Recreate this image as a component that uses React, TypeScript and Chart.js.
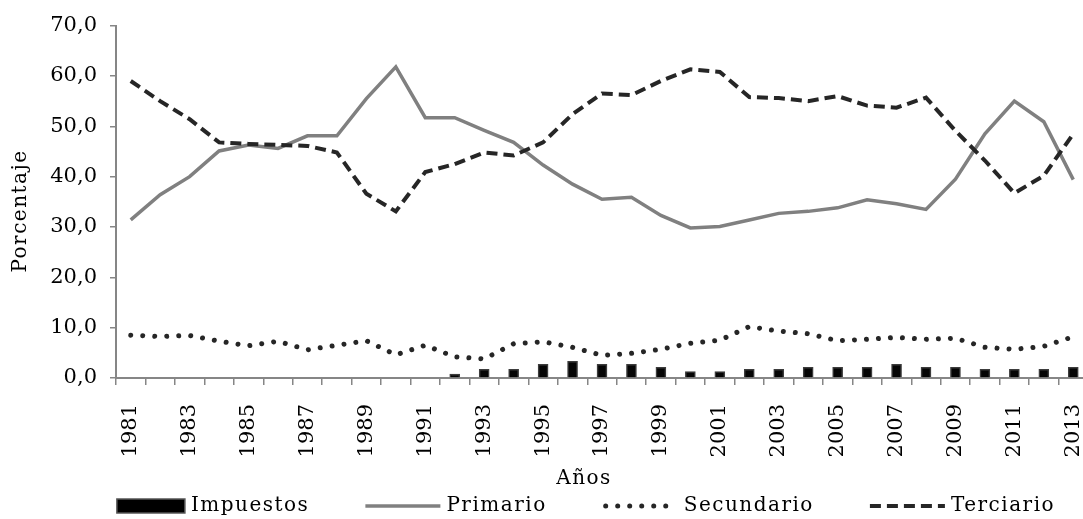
import React, { useEffect, useRef } from 'react';
import { Chart, registerables } from 'chart.js';

Chart.register(...registerables);

const years: string[] = [
  '1981', '1982', '1983', '1984', '1985', '1986', '1987', '1988', '1989', '1990',
  '1991', '1992', '1993', '1994', '1995', '1996', '1997', '1998', '1999', '2000',
  '2001', '2002', '2003', '2004', '2005', '2006', '2007', '2008', '2009', '2010',
  '2011', '2012', '2013',
];

const impuestos: (number | null)[] = [
  null, null, null, null, null, null, null, null, null, null,
  null, 0.8, 1.7, 1.7, 2.7, 3.3, 2.7, 2.7, 2.1, 1.3,
  1.3, 1.7, 1.7, 2.1, 2.1, 2.1, 2.7, 2.1, 2.1, 1.7,
  1.7, 1.7, 2.1,
];

const primario: number[] = [
  31.4, 36.4, 40.0, 45.1, 46.3, 45.6, 48.1, 48.1, 55.5, 61.8,
  51.7, 51.7, 49.2, 46.8, 42.3, 38.5, 35.5, 35.9, 32.3, 29.8,
  30.1, 31.4, 32.7, 33.1, 33.8, 35.4, 34.6, 33.5, 39.5, 48.5,
  55.0, 50.9, 39.4,
];

const secundario: number[] = [
  8.5, 8.25, 8.45, 7.3, 6.4, 7.3, 5.6, 6.5, 7.4, 4.6,
  6.5, 4.2, 3.8, 6.8, 7.2, 6.1, 4.5, 4.9, 5.7, 6.9,
  7.5, 10.2, 9.3, 8.8, 7.4, 7.7, 8.05, 7.7, 7.9, 6.1,
  5.7, 6.3, 8.2,
];

const terciario: number[] = [
  59.0, 55.0, 51.4, 46.8, 46.5, 46.3, 46.1, 44.8, 36.6, 33.1,
  40.9, 42.5, 44.8, 44.2, 46.8, 52.4, 56.5, 56.2, 59.0, 61.3,
  60.8, 55.8, 55.6, 55.0, 56.0, 54.1, 53.7, 55.7, 49.1, 43.2,
  36.7, 40.2, 48.5,
];

const seriesNames = ['Impuestos', 'Primario', 'Secundario', 'Terciario'];
const xTitle = 'Años';
const yTitle = 'Porcentaje';
const yMin = 0;
const yMax = 70;
const yStep = 10;

const FONT = '"DejaVu Serif", serif';

const textPlugin = {
  id: 'textAndLegend',
  afterDraw(chart: any) {
    const ctx: CanvasRenderingContext2D = chart.ctx;
    ctx.save();
    ctx.fillStyle = '#000';
    ctx.font = `20px ${FONT}`;
    (ctx as any).letterSpacing = '1.5px';
    ctx.textBaseline = 'middle';
    ctx.textAlign = 'center';
    // x title
    ctx.fillText(xTitle, 584, 479);
    // y title
    ctx.save();
    ctx.translate(21, 211);
    ctx.rotate(-Math.PI / 2);
    ctx.fillText(yTitle, 0, 0);
    ctx.restore();

    // legend
    const datasets = chart.data.datasets;
    const gapMT = 6;
    const gapItems = 56;
    const items = datasets.map((ds: any) => ({
      ds,
      mw: ds.type === 'bar' ? 68 : 75,
      tw: ctx.measureText(ds.label).width,
    }));
    const total =
      items.reduce((s: number, it: any) => s + it.mw + gapMT + it.tw, 0) +
      gapItems * (items.length - 1);
    let x = 586 - total / 2;
    const cy = 506;
    ctx.textAlign = 'left';
    for (const it of items) {
      const ds = it.ds;
      ctx.save();
      if (ds.type === 'bar') {
        ctx.fillStyle = '#000';
        ctx.fillRect(x, cy - 7, it.mw, 14);
        ctx.strokeStyle = '#555';
        ctx.lineWidth = 1.5;
        ctx.strokeRect(x, cy - 7, it.mw, 14);
      } else {
        ctx.setLineDash(ds.borderDash || []);
        ctx.lineWidth = ds.borderWidth;
        ctx.lineCap = ds.borderCapStyle || 'butt';
        ctx.strokeStyle = ds.borderColor;
        ctx.beginPath();
        const inset = ds.borderCapStyle === 'round' ? 3 : 0;
        ctx.moveTo(x + inset, cy);
        ctx.lineTo(x + it.mw, cy);
        ctx.stroke();
      }
      ctx.restore();
      x += it.mw + gapMT;
      ctx.fillText(ds.label, x, cy);
      x += it.tw + gapItems;
    }
    ctx.restore();
  },
};

export default function App() {
  const canvasRef = useRef<HTMLCanvasElement | null>(null);

  useEffect(() => {
    if (!canvasRef.current) return;
    Chart.defaults.font.family = FONT;
    Chart.defaults.font.size = 20;
    Chart.defaults.color = '#000';

    const chart = new Chart(canvasRef.current, {
      type: 'line',
      data: {
        labels: years,
        datasets: [
          {
            type: 'bar',
            label: seriesNames[0],
            data: impuestos,
            backgroundColor: '#050505',
            borderColor: '#3c3c3c',
            borderWidth: 1.5,
            barThickness: 10,
            order: 3,
          } as any,
          {
            type: 'line',
            label: seriesNames[1],
            data: primario,
            borderColor: '#808080',
            borderWidth: 3.5,
            pointRadius: 0,
            tension: 0,
            fill: false,
            order: 2,
          },
          {
            type: 'line',
            label: seriesNames[2],
            data: secundario,
            borderColor: '#262626',
            borderWidth: 5,
            borderDash: [0.01, 12],
            borderCapStyle: 'round',
            pointRadius: 0,
            tension: 0,
            fill: false,
            order: 1,
          },
          {
            type: 'line',
            label: seriesNames[3],
            data: terciario,
            borderColor: '#262626',
            borderWidth: 4,
            borderDash: [11, 6],
            pointRadius: 0,
            tension: 0,
            fill: false,
            order: 0,
          },
        ],
      },
      options: {
        animation: false,
        responsive: false,
        devicePixelRatio: 1,
        layout: { padding: { top: 25, right: 32, bottom: 0, left: 0 } },
        plugins: {
          legend: { display: false },
          tooltip: { enabled: false },
          title: { display: false },
        },
        scales: {
          x: {
            type: 'category',
            offset: true,
            grid: {
              display: true,
              offset: true,
              drawOnChartArea: false,
              drawTicks: true,
              tickLength: 7,
              color: '#868686',
              lineWidth: 1.5,
            },
            border: { display: true, color: '#868686', width: 2 },
            ticks: {
              autoSkip: false,
              maxRotation: 90,
              minRotation: 90,
              padding: 19,
              font: { size: 21, family: FONT },
              color: '#000',
              callback: function (this: any, value: any, index: number) {
                return index % 2 === 0 ? years[index] : '';
              },
            },
            afterFit: (scale: any) => {
              scale.height = 141;
            },
          },
          y: {
            min: yMin,
            max: yMax,
            grid: {
              display: true,
              drawOnChartArea: false,
              drawTicks: true,
              tickLength: 6,
              color: '#868686',
              lineWidth: 1.5,
            },
            border: { display: true, color: '#868686', width: 2 },
            ticks: {
              stepSize: yStep,
              padding: 13,
              font: { size: 21, family: FONT },
              color: '#000',
              callback: (v: any) => Number(v).toFixed(1).replace('.', ','),
            },
            afterFit: (scale: any) => {
              scale.width = 116;
            },
          },
        },
      },
      plugins: [textPlugin],
    });

    return () => {
      chart.destroy();
    };
  }, []);

  return (
    <div
      style={{
        position: 'absolute',
        left: 0,
        top: 0,
        width: 1083,
        height: 519,
        overflow: 'hidden',
        background: '#fff',
      }}
    >
      <canvas ref={canvasRef} width={1120} height={519} style={{ display: 'block' }} />
    </div>
  );
}
